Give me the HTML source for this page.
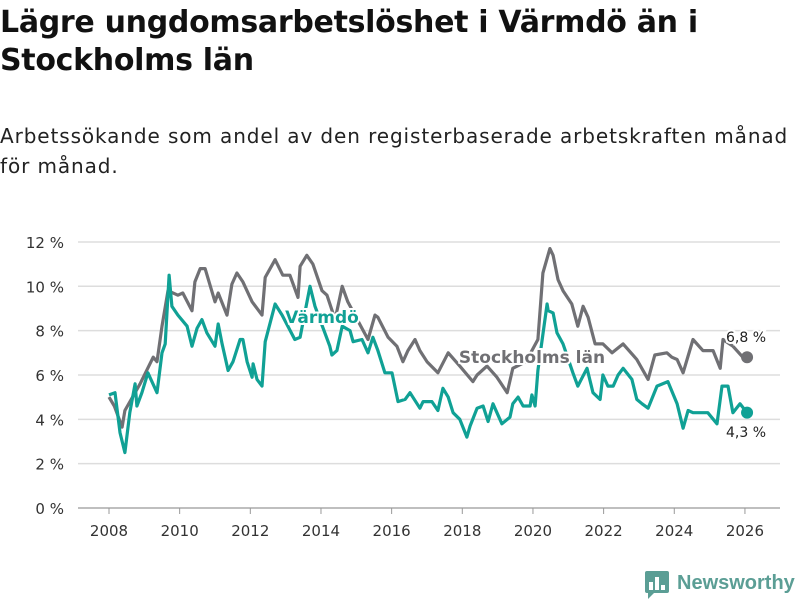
<!DOCTYPE html>
<html><head><meta charset="utf-8">
<style>
body{margin:0;width:800px;height:600px;background:#fff;font-family:"Liberation Sans","DejaVu Sans",sans-serif;overflow:hidden;position:relative}
h1{position:absolute;left:0;top:4px;margin:0;font-size:30px;line-height:38px;font-weight:bold;color:#111;width:790px;font-family:"DejaVu Sans",sans-serif;letter-spacing:-0.3px}
p{position:absolute;left:0;top:121px;margin:0;font-size:20px;line-height:30px;color:#222;width:800px;font-family:"DejaVu Sans",sans-serif;letter-spacing:0.9px}
svg{position:absolute;left:0;top:0}
</style></head><body>
<h1>Lägre ungdomsarbetslöshet i Värmdö än i Stockholms län</h1>
<p>Arbetssökande som andel av den registerbaserade arbetskraften månad för månad.</p>
<svg id="c" width="800" height="600"></svg>
<script>
const yTicks=[0,2,4,6,8,10,12];
const xTicks=[2008,2010,2012,2014,2016,2018,2020,2022,2024,2026];
const sthlmYears=[2008.0,2008.15,2008.37,2008.45,2008.88,2009.25,2009.36,2009.5,2009.67,2009.95,2010.09,2010.35,2010.43,2010.58,2010.72,2011.0,2011.09,2011.34,2011.48,2011.62,2011.79,2012.05,2012.33,2012.42,2012.7,2012.92,2013.12,2013.35,2013.41,2013.6,2013.77,2014.03,2014.17,2014.4,2014.6,2014.76,2015.16,2015.33,2015.53,2015.61,2015.9,2016.15,2016.32,2016.46,2016.66,2016.8,2017.0,2017.31,2017.6,2017.93,2018.3,2018.42,2018.7,2018.98,2019.27,2019.43,2019.8,2020.14,2020.28,2020.48,2020.57,2020.71,2020.85,2021.1,2021.27,2021.42,2021.56,2021.76,2021.98,2022.24,2022.55,2022.94,2023.26,2023.45,2023.79,2023.93,2024.08,2024.25,2024.53,2024.81,2025.1,2025.3,2025.38,2025.66,2025.94,2026.06];
const sthlmValues=[5.0,4.6,3.65,4.4,5.6,6.8,6.6,8.2,9.8,9.6,9.7,8.9,10.2,10.8,10.8,9.3,9.7,8.7,10.1,10.6,10.2,9.3,8.7,10.4,11.2,10.5,10.5,9.5,10.9,11.4,11.0,9.8,9.6,8.5,10.0,9.3,8.1,7.6,8.7,8.6,7.7,7.3,6.6,7.1,7.6,7.1,6.6,6.1,7.0,6.4,5.7,6.0,6.4,5.9,5.2,6.3,6.6,7.6,10.6,11.7,11.4,10.3,9.8,9.2,8.2,9.1,8.6,7.4,7.4,7.0,7.4,6.7,5.8,6.9,7.0,6.8,6.7,6.1,7.6,7.1,7.1,6.3,7.6,7.3,6.8,6.8];
const varmYears=[2008.0,2008.17,2008.31,2008.45,2008.59,2008.74,2008.79,2008.93,2009.1,2009.36,2009.5,2009.59,2009.7,2009.78,2009.95,2010.21,2010.35,2010.49,2010.63,2010.77,2011.0,2011.09,2011.2,2011.37,2011.51,2011.71,2011.79,2011.91,2012.05,2012.08,2012.19,2012.33,2012.42,2012.7,2012.9,2013.26,2013.41,2013.69,2013.83,2013.97,2014.25,2014.31,2014.45,2014.6,2014.82,2014.91,2015.16,2015.33,2015.47,2015.61,2015.81,2016.01,2016.18,2016.38,2016.52,2016.8,2016.89,2017.14,2017.31,2017.45,2017.6,2017.74,2017.93,2018.13,2018.22,2018.42,2018.59,2018.73,2018.87,2019.12,2019.35,2019.43,2019.58,2019.72,2019.92,2019.97,2020.06,2020.14,2020.4,2020.43,2020.57,2020.68,2020.85,2021.13,2021.27,2021.53,2021.7,2021.9,2021.98,2022.12,2022.27,2022.41,2022.55,2022.8,2022.94,2023.09,2023.26,2023.51,2023.82,2024.08,2024.25,2024.39,2024.53,2024.64,2024.95,2025.21,2025.35,2025.52,2025.66,2025.86,2026.06];
const varmValues=[5.1,5.2,3.4,2.5,4.3,5.6,4.6,5.2,6.1,5.2,7.0,7.4,10.5,9.1,8.7,8.2,7.3,8.1,8.5,7.9,7.3,8.3,7.4,6.2,6.6,7.6,7.6,6.6,5.9,6.5,5.8,5.5,7.5,9.2,8.7,7.6,7.7,10.0,9.1,8.5,7.3,6.9,7.1,8.2,8.0,7.5,7.6,7.0,7.7,7.1,6.1,6.1,4.8,4.9,5.2,4.5,4.8,4.8,4.4,5.4,5.0,4.3,4.0,3.2,3.7,4.5,4.6,3.9,4.7,3.8,4.1,4.7,5.0,4.6,4.6,5.1,4.6,6.2,9.2,8.9,8.8,7.9,7.4,6.1,5.5,6.3,5.2,4.9,6.0,5.5,5.5,6.0,6.3,5.8,4.9,4.7,4.5,5.5,5.7,4.7,3.6,4.4,4.3,4.3,4.3,3.8,5.5,5.5,4.3,4.7,4.3];
const NS='http://www.w3.org/2000/svg';
const svg=document.getElementById('c');
const X=y=>109+(y-2008)*35.33;
const Y=v=>508-v*22.17;
function mk(t,a,parent){const e=document.createElementNS(NS,t);for(const k in a)e.setAttribute(k,a[k]);(parent||svg).appendChild(e);return e;}
yTicks.forEach(v=>{
  const l=mk('line',{x1:78,x2:780,y1:Y(v),y2:Y(v),stroke:v===0?'#999':'#ddd','stroke-width':v===0?1.2:1.5});
  
  
  const t=mk('text',{x:64,y:Y(v)+6,'text-anchor':'end','font-size':15,fill:'#333','font-family':'DejaVu Sans,sans-serif'});
  t.textContent=v+' %';
  
  
});
xTicks.forEach(y=>{
  const l=mk('line',{x1:X(y),x2:X(y),y1:508,y2:514,stroke:'#999'});
  
  
  const t=mk('text',{x:X(y),y:536,'text-anchor':'middle','font-size':15,fill:'#333','font-family':'DejaVu Sans,sans-serif'});
  t.textContent=y;
  
  
});
function line(xs,vs,col,name){
  const d=xs.map((x,i)=>(i?'L':'M')+X(x).toFixed(1)+','+Y(vs[i]).toFixed(1)).join('');
  const p=mk('path',{d:d,fill:'none',stroke:col,'stroke-width':3.2,'stroke-linejoin':'round'});
  
  
  const n=xs.length-1;
  const c=mk('circle',{cx:X(xs[n]),cy:Y(vs[n]),r:6,fill:col});
  
  
}
line(sthlmYears,sthlmValues,'#707074','stockholm-line');
line(varmYears,varmValues,'#10a195','varmdo-line');
function lab(txt,x,y,col,size,w,name){
  const t=mk('text',{x:x,y:y,'text-anchor':'middle','font-size':size,'font-weight':w,fill:col,stroke:'#fff','stroke-width':4,'paint-order':'stroke','font-family':'DejaVu Sans,sans-serif'});
  t.textContent=txt;
  
  
}
lab('Värmdö',322,323,'#10a195',17,'bold','varmdo-label');
lab('Stockholms län',532,363,'#707074',17,'bold','stockholm-label');
lab('6,8 %',746,342,'#222',14,'normal','stockholm-end-value');
lab('4,3 %',746,437,'#222',14,'normal','varmdo-end-value');
const g=mk('g',{});


mk('rect',{x:645,y:571,width:24,height:22,rx:2,fill:'#5b9e95'},g);
[[649,582,4,8],[655,577,4,13],[661,585,4,5]].forEach(r=>mk('rect',{x:r[0],y:r[1],width:r[2],height:r[3],fill:'#fff'},g));
mk('path',{d:'M648,593 L648,599 L654,593 Z',fill:'#5b9e95'},g);
const lt=mk('text',{x:677,y:589,'font-size':20,'font-weight':'bold',fill:'#5b9e95','font-family':'Liberation Sans,sans-serif'},g);
lt.textContent='Newsworthy';


</script>
</body></html>
